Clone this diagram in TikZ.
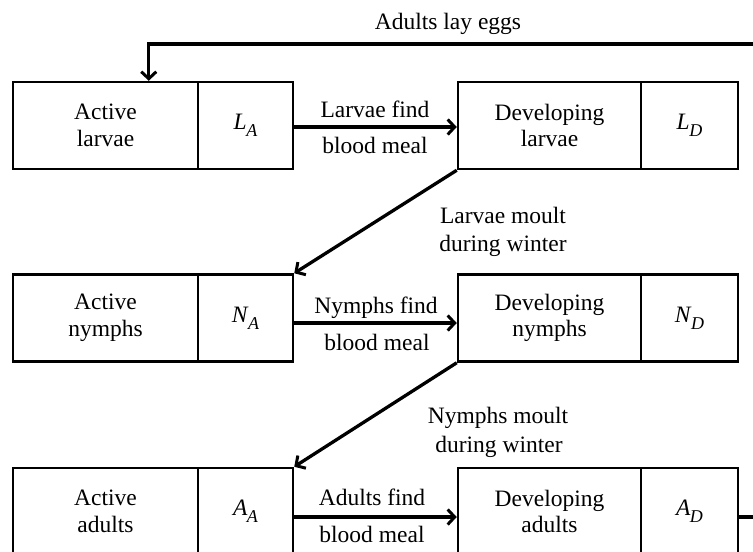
\documentclass[tikz,border=0pt]{standalone}
\usepackage{fontspec}
\setmainfont{Liberation Serif}
\usetikzlibrary{arrows.meta}
\newcommand\vsub[2]{\textit{#1}\kern-0.5pt\raisebox{-7pt}{\fontsize{18}{18}\selectfont\textit{#2}}}
\begin{document}
\begin{tikzpicture}[x=1pt,y=-1pt,
  part/.style={draw,line width=2.5pt,inner sep=0pt,minimum height=87pt,align=center,
    font=\fontsize{23.5}{26.5}\selectfont},
  lbl/.style={anchor=base,inner sep=0pt,font=\fontsize{23.5}{26.5}\selectfont},
  arr/.style={line width=3.3pt,-{Straight Barb[length=7pt,width=15pt,line width=3pt]}},
  plain/.style={line width=3.3pt}
]
\useasboundingbox (0,0) rectangle (753,552);
% row 1
\node[part,minimum width=185pt] (LAt) at (105.5,125.5) {Active\\larvae};
\node[part,minimum width=95pt]  (LAv) at (245.5,125.5) {\vsub{L}{A}};
\node[part,minimum width=183pt] (LDt) at (549.5,125.5) {Developing\\larvae};
\node[part,minimum width=97pt]  (LDv) at (689.5,125.5) {\vsub{L}{D}};
% row 2
\node[part,minimum width=185pt] (NAt) at (105.5,318) {Active\\nymphs};
\node[part,minimum width=95pt]  (NAv) at (245.5,318) {\vsub{N}{A}};
\node[part,minimum width=183pt] (NDt) at (549.5,318) {Developing\\nymphs};
\node[part,minimum width=97pt]  (NDv) at (689.5,318) {\vsub{N}{D}};
% row 3
\node[part,minimum width=185pt] (AAt) at (105.5,511.5) {Active\\adults};
\node[part,minimum width=95pt]  (AAv) at (245.5,511.5) {\vsub{A}{A}};
\node[part,minimum width=183pt] (ADt) at (549.5,511.5) {Developing\\adults};
\node[part,minimum width=97pt]  (ADv) at (689.5,511.5) {\vsub{A}{D}};
% horizontal arrows
\draw[arr] (LAv.east |- 0,127) -- (LDt.west |- 0,127);
\draw[arr] (NAv.east |- 0,323) -- (NDt.west |- 0,323);
\draw[arr] (AAv.east |- 0,517) -- (ADt.west |- 0,517);
\node[lbl] (t1a) at (375,117) {Larvae find};
\node[lbl] (t1b) at (375,153) {blood meal};
\node[lbl] (t2a) at (376,313) {Nymphs find};
\node[lbl] (t2b) at (377,350) {blood meal};
\node[lbl] (t3a) at (372,505) {Adults find};
\node[lbl] (t3b) at (372,542) {blood meal};
% moult arrows
\draw[arr] (LDt.south west) -- (NAv.north east);
\draw[arr] (NDt.south west) -- (AAv.north east);
\node[lbl] (m1a) at (503,223) {Larvae moult};
\node[lbl] (m1b) at (503,251) {during winter};
\node[lbl] (m2a) at (498,423) {Nymphs moult};
\node[lbl] (m2b) at (499,452) {during winter};
% egg loop
\coordinate (RB) at (765,517);
\coordinate (TR) at (765,44);
\draw[plain] (ADv.east |- RB) -- (RB);
\draw[arr] (TR) -| ([xshift=137pt]LAt.north west);
\node[lbl] (egg) at (448,29) {Adults lay eggs};
\end{tikzpicture}
\end{document}
